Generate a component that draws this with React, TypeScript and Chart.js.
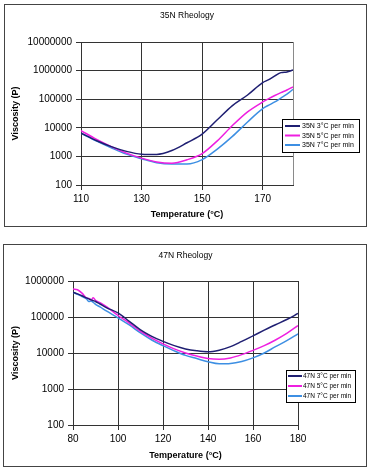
import React, { useEffect, useRef } from "react";
import { Chart, registerables } from "chart.js";

Chart.register(...registerables);

// ---------- Data: 35N ----------
const TOP_TEMPS = [110, 115, 120, 125, 130, 135, 140, 145, 150, 155, 160, 165, 170, 172, 174, 176, 178, 180];
const TOP_3C = [6500, 3600, 2200, 1500, 1200, 1170, 1600, 3000, 6000, 19000, 60000, 140000, 380000, 480000, 650000, 850000, 900000, 1050000];
const TOP_5C = [8000, 4000, 2200, 1300, 870, 640, 580, 760, 1250, 3500, 12000, 36000, 80000, 105000, 135000, 170000, 210000, 270000];
const TOP_7C = [6500, 3500, 2000, 1200, 830, 600, 540, 540, 770, 1800, 5000, 16000, 47000, 62000, 80000, 110000, 150000, 220000];
const TOP_LABELS = ["35N 3°C per min", "35N 5°C per min", "35N 7°C per min"];
const TOP_X_TICKS = [110, 130, 150, 170];
const TOP_Y_TICKS = [100, 1000, 10000, 100000, 1000000, 10000000];
const TOP_Y_TICK_LABELS = ["100", "1000", "10000", "100000", "1000000", "10000000"];

// ---------- Data: 47N ----------
const BOT_TEMPS = [80, 82, 84, 86, 87, 88, 89, 90, 92, 95, 100, 105, 110, 115, 120, 125, 130, 135, 140, 145, 150, 155, 160, 165, 170, 175, 180];
const BOT_3C = [490000, 440000, 390000, 340000, 320000, 300000, 285000, 270000, 230000, 180000, 130000, 76000, 44000, 29000, 21000, 16000, 13000, 11500, 10800, 12000, 15000, 21000, 30000, 43000, 61000, 85000, 125000];
const BOT_5C = [600000, 570000, 460000, 340000, 330000, 300000, 340000, 290000, 250000, 190000, 110000, 68000, 40000, 26000, 18000, 13000, 10000, 8200, 7000, 6700, 7300, 9000, 11800, 16000, 23000, 35000, 58000];
const BOT_7C = [480000, 430000, 370000, 320000, 270000, 280000, 255000, 225000, 190000, 145000, 95000, 60000, 36000, 23000, 16000, 11500, 8600, 7000, 5700, 5000, 5100, 5800, 7300, 10000, 15000, 22000, 34000];
const BOT_LABELS = ["47N 3°C per min", "47N 5°C per min", "47N 7°C per min"];
const BOT_X_TICKS = [80, 100, 120, 140, 160, 180];
const BOT_Y_TICKS = [100, 1000, 10000, 100000, 1000000];
const BOT_Y_TICK_LABELS = ["100", "1000", "10000", "100000", "1000000"];

const COLORS = ["#1f1f72", "#ee1fe0", "#3d8fe3"];
const FONT = "'Liberation Sans', Arial, sans-serif";

type PanelProps = {
  width: number;
  height: number;
  title: string;
  titleY: number;
  plot: { left: number; right: number; top: number; bottom: number };
  temps: number[];
  series: number[][];
  labels: string[];
  xMin: number;
  xMax: number;
  xTicks: number[];
  yMin: number;
  yMax: number;
  yTicks: number[];
  yTickLabels: string[];
  rightBorderGray: boolean;
  legend: { x: number; y: number; w: number; h: number; rows: number[]; lineX0: number; lineX1: number; textX: number; fontSize: number };
  yTickFont: number;
  xTitlePad: number;
};

function RheologyPanel(p: PanelProps) {
  const ref = useRef<HTMLCanvasElement | null>(null);

  useEffect(() => {
    if (!ref.current) return;
    const decor = {
      id: "decor",
      beforeDatasetsDraw(chart: any) {
        const { ctx, chartArea } = chart;
        if (p.rightBorderGray) {
          ctx.save();
          ctx.strokeStyle = "#8a8a8a";
          ctx.lineWidth = 1;
          ctx.beginPath();
          ctx.moveTo(Math.round(chartArea.right) + 0.5, chartArea.top);
          ctx.lineTo(Math.round(chartArea.right) + 0.5, chartArea.bottom);
          ctx.stroke();
          ctx.restore();
        }
      },
      afterDraw(chart: any) {
        const { ctx, chartArea } = chart;
        ctx.save();
        ctx.fillStyle = "#000";
        ctx.font = `8.5px ${FONT}`;
        ctx.textAlign = "center";
        ctx.textBaseline = "middle";
        ctx.fillText(p.title, (chartArea.left + chartArea.right) / 2, p.titleY);

        const L = p.legend;
        ctx.fillStyle = "#fff";
        ctx.fillRect(L.x, L.y, L.w, L.h);
        ctx.strokeStyle = "#000";
        ctx.lineWidth = 1;
        ctx.strokeRect(L.x + 0.5, L.y + 0.5, L.w, L.h);
        ctx.font = `${L.fontSize}px ${FONT}`;
        ctx.textAlign = "left";
        chart.data.datasets.forEach((ds: any, i: number) => {
          const y = L.rows[i];
          ctx.strokeStyle = ds.borderColor;
          ctx.lineWidth = 2;
          ctx.beginPath();
          ctx.moveTo(L.lineX0, y);
          ctx.lineTo(L.lineX1, y);
          ctx.stroke();
          ctx.fillStyle = "#000";
          ctx.fillText(ds.label, L.textX, y + 0.5);
        });
        ctx.restore();
      },
    };

    const chart = new Chart(ref.current, {
      type: "line",
      data: {
        datasets: p.series.map((vals, i) => ({
          label: p.labels[i],
          data: p.temps.map((t, j) => ({ x: t, y: vals[j] })),
          borderColor: COLORS[i],
          backgroundColor: COLORS[i],
          borderWidth: 1.5,
          pointRadius: 0,
          cubicInterpolationMode: "monotone",
          fill: false,
        })),
      },
      options: {
        animation: false,
        responsive: false,
        maintainAspectRatio: false,
        layout: { padding: { left: 0, top: p.plot.top, right: p.width - p.plot.right, bottom: 0 } },
        plugins: { legend: { display: false }, tooltip: { enabled: false }, title: { display: false } },
        scales: {
          x: {
            type: "linear",
            min: p.xMin,
            max: p.xMax,
            afterBuildTicks: (s: any) => {
              s.ticks = p.xTicks.map((v) => ({ value: v }));
            },
            afterFit: (s: any) => {
              s.height = p.height - p.plot.bottom;
            },
            ticks: {
              autoSkip: false,
              maxRotation: 0,
              padding: 3,
              color: "#000",
              font: { family: FONT, size: 10 },
              callback: (v: any) => String(v),
            },
            grid: { color: "#333", lineWidth: 1, tickLength: 5, drawTicks: true },
            border: { color: "#333" },
            title: {
              display: true,
              text: "Temperature (°C)",
              color: "#000",
              font: { family: FONT, size: 9, weight: "bold" },
              padding: { top: 0, bottom: p.xTitlePad },
            },
          },
          y: {
            type: "logarithmic",
            min: p.yMin,
            max: p.yMax,
            afterBuildTicks: (s: any) => {
              s.ticks = p.yTicks.map((v) => ({ value: v }));
            },
            afterFit: (s: any) => {
              s.width = p.plot.left;
            },
            ticks: {
              autoSkip: false,
              padding: 4,
              color: "#000",
              font: { family: FONT, size: p.yTickFont },
              callback: (_v: any, i: number) => p.yTickLabels[i],
            },
            grid: { color: "#333", lineWidth: 1, tickLength: 5, drawTicks: true },
            border: { color: "#333" },
            title: {
              display: true,
              text: "Viscosity (P)",
              color: "#000",
              font: { family: FONT, size: 9, weight: "bold" },
              padding: { top: 10, bottom: 0 },
            },
          },
        },
      },
      plugins: [decor],
    } as any);
    return () => chart.destroy();
  }, []);

  return <canvas ref={ref} width={p.width} height={p.height} style={{ width: p.width, height: p.height, display: "block" }} />;
}

export default function App() {
  return (
    <div style={{ position: "absolute", left: 0, top: 0, width: 370, height: 469, background: "#fff" }}>
      <div style={{ position: "absolute", left: 4, top: 4, width: 361, height: 221, border: "1px solid #444" }} />
      <div style={{ position: "absolute", left: 3, top: 244, width: 362, height: 221, border: "1px solid #444" }} />
      <div style={{ position: "absolute", left: 0, top: 0 }}>
        <RheologyPanel
          width={370}
          height={235}
          title="35N Rheology"
          titleY={16}
          plot={{ left: 81, right: 293, top: 42, bottom: 185 }}
          temps={TOP_TEMPS}
          series={[TOP_3C, TOP_5C, TOP_7C]}
          labels={TOP_LABELS}
          xMin={110}
          xMax={180}
          xTicks={TOP_X_TICKS}
          yMin={100}
          yMax={10000000}
          yTicks={TOP_Y_TICKS}
          yTickLabels={TOP_Y_TICK_LABELS}
          rightBorderGray={true}
          yTickFont={10}
          xTitlePad={15}
          legend={{ x: 282, y: 119, w: 77, h: 33, rows: [126, 135.5, 145], lineX0: 285, lineX1: 300, textX: 302, fontSize: 7 }}
        />
      </div>
      <div style={{ position: "absolute", left: 0, top: 235 }}>
        <RheologyPanel
          width={370}
          height={234}
          title="47N Rheology"
          titleY={21}
          plot={{ left: 73, right: 298, top: 46, bottom: 190 }}
          temps={BOT_TEMPS}
          series={[BOT_3C, BOT_5C, BOT_7C]}
          labels={BOT_LABELS}
          xMin={80}
          xMax={180}
          xTicks={BOT_X_TICKS}
          yMin={100}
          yMax={1000000}
          yTicks={BOT_Y_TICKS}
          yTickLabels={BOT_Y_TICK_LABELS}
          rightBorderGray={false}
          yTickFont={10}
          xTitlePad={8}
          legend={{ x: 286, y: 135, w: 69, h: 32, rows: [141, 151, 161], lineX0: 288, lineX1: 302, textX: 303, fontSize: 6.5 }}
        />
      </div>
    </div>
  );
}
